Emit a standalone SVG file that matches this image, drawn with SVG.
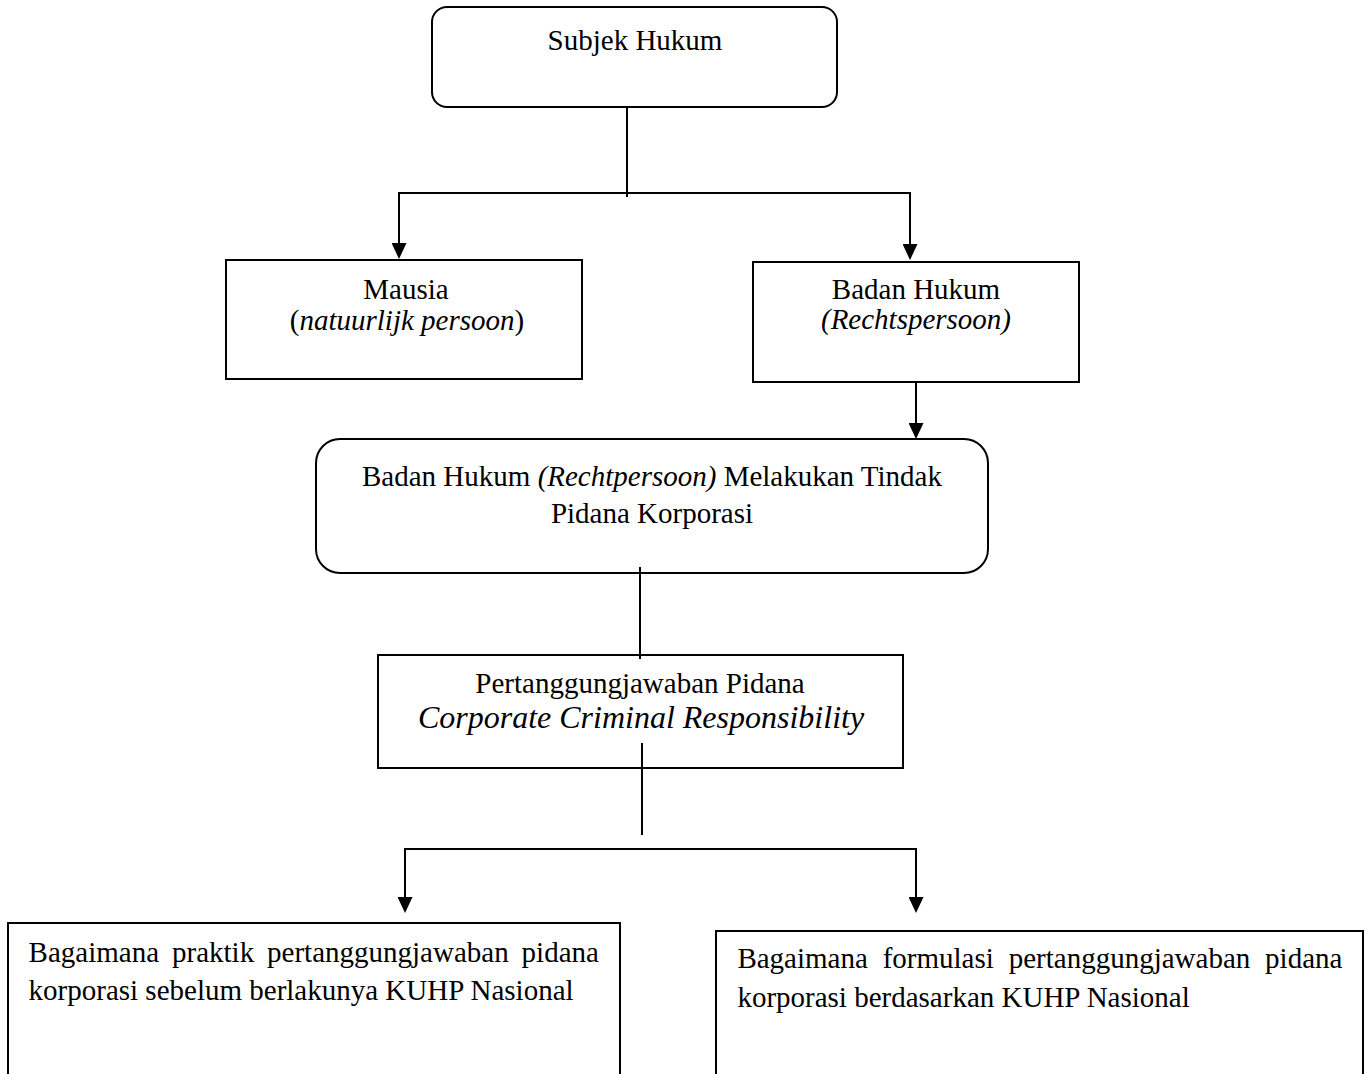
<svg xmlns="http://www.w3.org/2000/svg" width="1367" height="1074" viewBox="0 0 1367 1074">
  <style>
    .box { fill: #ffffff; stroke: #000000; stroke-width: 2; }
    .line { fill: none; stroke: #000000; stroke-width: 2; }
    text { font-family: "Liberation Serif", "Times New Roman", serif; font-size: 29px; fill: #000000; }
    .c { text-anchor: middle; }
    .i { font-style: italic; }
  </style>
  <defs>
    <marker id="arrow" viewBox="0 0 16 15" refX="10" refY="7.5" markerWidth="16" markerHeight="15" markerUnits="userSpaceOnUse" orient="auto">
      <path d="M0,0 L16,7.5 L0,15 Z" fill="#000000"/>
    </marker>
  </defs>

  <g id="subjek-hukum">
    <rect class="box" x="432" y="7" width="405" height="100" rx="15" ry="15"/>
    <text class="c" x="635" y="50">Subjek Hukum</text>
  </g>

  <g id="manusia">
    <rect class="box" x="226" y="260" width="356" height="119"/>
    <text class="c" x="406" y="299">Mausia</text>
    <text class="c" x="407" y="330">(<tspan class="i">natuurlijk persoon</tspan>)</text>
  </g>

  <g id="badan-hukum">
    <rect class="box" x="753" y="262" width="326" height="120"/>
    <text class="c" x="916" y="299">Badan Hukum</text>
    <text class="c i" x="916" y="329">(Rechtspersoon)</text>
  </g>

  <g id="tindak-pidana">
    <rect class="box" x="316" y="439" width="672" height="134" rx="24" ry="24"/>
    <text class="c" x="652" y="486">Badan Hukum <tspan class="i">(Rechtpersoon)</tspan> Melakukan Tindak</text>
    <text class="c" x="652" y="523">Pidana Korporasi</text>
  </g>

  <g id="pertanggungjawaban">
    <rect class="box" x="378" y="655" width="525" height="113"/>
    <text class="c" x="640" y="693">Pertanggungjawaban Pidana</text>
    <text class="c i" x="641" y="728" style="font-size:32px">Corporate Criminal Responsibility</text>
  </g>

  <g id="praktik">
    <rect class="box" x="8" y="923" width="612" height="170"/>
    <text x="28.6" y="962" word-spacing="5.7">Bagaimana praktik pertanggungjawaban pidana</text>
    <text x="28.6" y="1000">korporasi sebelum berlakunya KUHP Nasional</text>
  </g>

  <g id="formulasi">
    <rect class="box" x="716" y="931" width="647" height="170"/>
    <text x="737.4" y="968" word-spacing="7.6">Bagaimana formulasi pertanggungjawaban pidana</text>
    <text x="737.4" y="1007">korporasi berdasarkan KUHP Nasional</text>
  </g>

  <g id="connectors">
    <path class="line" d="M627,107 V197"/>
    <path class="line" d="M627,193 H399 V253" marker-end="url(#arrow)"/>
    <path class="line" d="M627,193 H910 V254" marker-end="url(#arrow)"/>
    <path class="line" d="M916,382 V433" marker-end="url(#arrow)"/>
    <path class="line" d="M640,567 V659"/>
    <path class="line" d="M642,743 V835"/>
    <path class="line" d="M660,849 H405 V907" marker-end="url(#arrow)"/>
    <path class="line" d="M405,849 H916 V907" marker-end="url(#arrow)"/>
  </g>
</svg>
